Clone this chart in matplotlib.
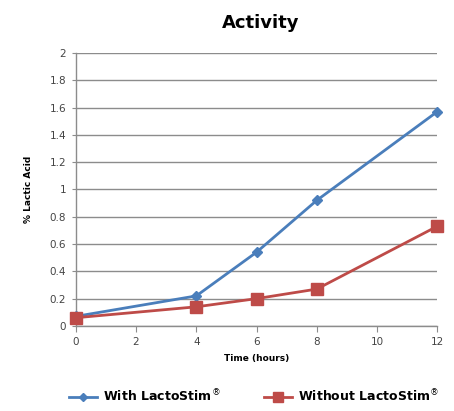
import matplotlib.pyplot as plt
from matplotlib.lines import Line2D

hours = [0, 4, 6, 8, 12]
with_lactostim = [0.07, 0.22, 0.54, 0.92, 1.57]
without_lactostim = [0.06, 0.14, 0.20, 0.27, 0.73]
x_ticks = [0, 2, 4, 6, 8, 10, 12]
y_ticks = [0, 0.2, 0.4, 0.6, 0.8, 1, 1.2, 1.4, 1.6, 1.8, 2]
y_labels = ["0", "0.2", "0.4", "0.6", "0.8", "1", "1.2", "1.4", "1.6", "1.8", "2"]
series_names = ["With LactoStim$^{®}$", "Without LactoStim$^{®}$"]

BLUE = "#4a7ebb"
RED = "#be4b48"


def main() -> None:
    fig = plt.figure(figsize=(4.54, 4.11), dpi=100)
    ax = fig.add_axes([0.167, 0.207, 0.796, 0.664])

    ax.plot(hours, with_lactostim, color=BLUE, lw=2, marker="D", ms=5,
            clip_on=False, zorder=3)
    ax.plot(hours, without_lactostim, color=RED, lw=2, marker="s", ms=8,
            clip_on=False, zorder=3)

    ax.set_xlim(0, 12)
    ax.set_ylim(0, 2)
    ax.set_xticks(x_ticks)
    ax.set_yticks(y_ticks)
    ax.set_yticklabels(y_labels)
    ax.tick_params(axis="both", labelsize=7.5, colors="#444444", length=4,
                   width=0.8, pad=4)
    ax.tick_params(axis="y", length=3, color="#8c8c8c")
    ax.tick_params(axis="x", color="#8c8c8c")
    ax.yaxis.grid(True, color="#8c8c8c", lw=1)
    ax.set_axisbelow(True)
    for side in ("top", "right"):
        ax.spines[side].set_visible(False)
    for side in ("left", "bottom"):
        ax.spines[side].set_color("#8c8c8c")
        ax.spines[side].set_linewidth(1)

    ax.set_xlabel("Time (hours)", fontsize=6.5, fontweight="bold", labelpad=5)
    ax.set_ylabel("% Lactic Acid", fontsize=6.5, fontweight="bold", labelpad=12)
    fig.text(0.575, 0.945, "Activity", ha="center", va="center",
             fontsize=13, fontweight="bold")

    handles = [
        Line2D([], [], color=BLUE, lw=2, marker="D", ms=4),
        Line2D([], [], color=RED, lw=2, marker="s", ms=7),
    ]
    fig.legend(handles, series_names,
               loc="center", bbox_to_anchor=(0.56, 0.035), ncol=2,
               frameon=False, prop={"size": 9, "weight": "bold"},
               handlelength=2.2, columnspacing=3.5, handletextpad=0.5)

    fig.savefig("out.png", dpi=100)


if __name__ == "__main__":
    main()
